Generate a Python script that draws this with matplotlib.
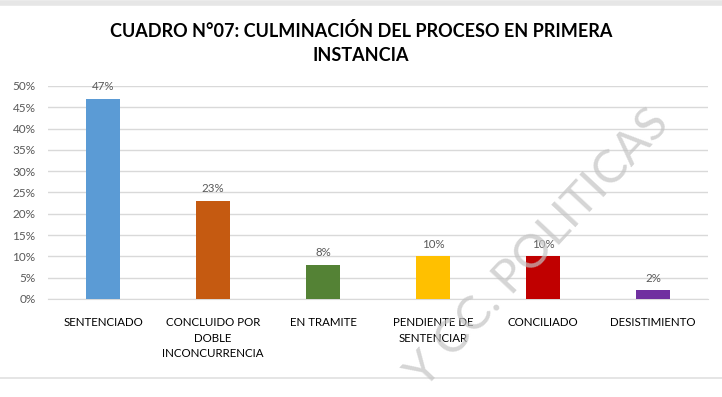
import matplotlib.pyplot as plt
import matplotlib.lines as mlines
from matplotlib.ticker import FuncFormatter

plt.rcParams["font.family"] = ["Lato", "DejaVu Sans"]

categorias = ["SENTENCIADO", "CONCLUIDO POR\nDOBLE\nINCONCURRENCIA", "EN TRAMITE",
              "PENDIENTE DE\nSENTENCIAR", "CONCILIADO", "DESISTIMIENTO"]
valores = [0.47, 0.23, 0.08, 0.10, 0.10, 0.02]
etiquetas = ["47%", "23%", "8%", "10%", "10%", "2%"]
colores = ["#5B9BD5", "#C55A11", "#548235", "#FFC000", "#C00000", "#7030A0"]

fig = plt.figure(figsize=(7.22, 3.97), dpi=100)
ax = fig.add_axes([0.0665, 0.2469, 0.914, 0.5365])

x = range(len(categorias))
ax.bar(x, valores, width=0.31, color=colores, zorder=3)
for i, (v, t) in enumerate(zip(valores, etiquetas)):
    ax.text(i, v + 0.016, t, ha="center", va="bottom", fontsize=8.3, color="#595959")

ax.set_xlim(-0.5, len(categorias) - 0.5)
ax.set_ylim(0, 0.5)
ax.set_yticks([i * 0.05 for i in range(11)])
ax.yaxis.set_major_formatter(FuncFormatter(lambda v, p: f"{v*100:.0f}%"))
ax.grid(axis="y", color="#D9D9D9", linewidth=1, zorder=0)
ax.set_xticks(list(x))
ax.set_xticklabels(categorias, fontsize=8.3, color="#000000", linespacing=1.5, va="top")
ax.tick_params(axis="y", labelsize=8.5, labelcolor="#595959", length=0, pad=9)
ax.tick_params(axis="x", length=0, pad=13)
for s in ["top", "right", "left"]:
    ax.spines[s].set_visible(False)
ax.spines["bottom"].set_color("#D9D9D9")

fig.text(0.5, 0.892, "CUADRO N°07: CULMINACIÓN DEL PROCESO EN PRIMERA\nINSTANCIA",
         ha="center", va="center", fontsize=13, fontweight="bold",
         color="#000000", linespacing=1.5)

# marco del documento
fig.add_artist(mlines.Line2D([0, 1], [0.993, 0.993], color="#E6E6E6", lw=4,
                             transform=fig.transFigure))
fig.add_artist(mlines.Line2D([0, 1], [0.048, 0.048], color="#E0E0E0", lw=1.2,
                             transform=fig.transFigure))

# marca de agua
fig.text(0.745, 0.375, "Y CC. POLITICAS", rotation=47, ha="center", va="center",
         fontsize=34, color="#C4C4C4", alpha=0.7, zorder=10)

fig.savefig("out.png", dpi=100)
